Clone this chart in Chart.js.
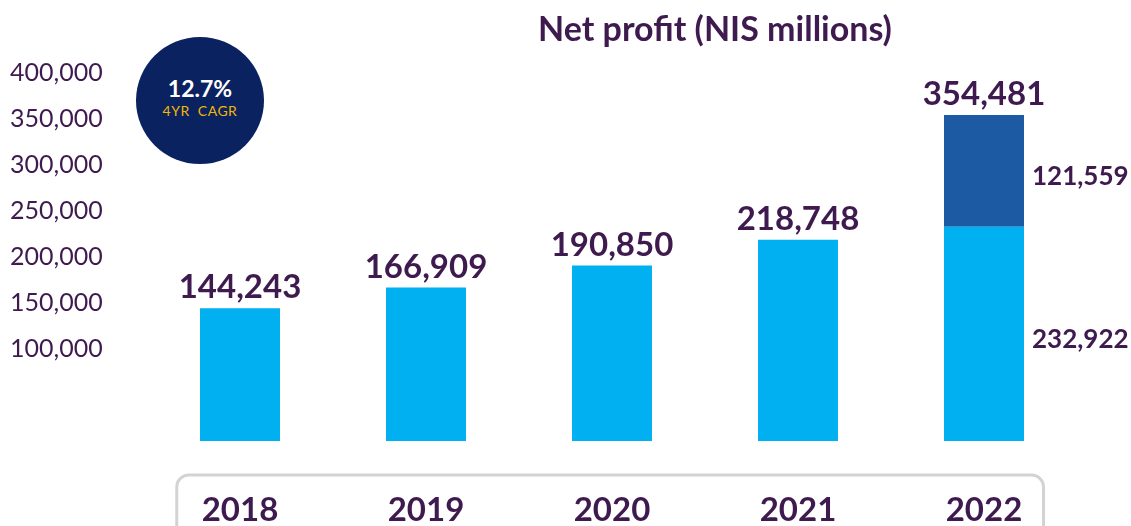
<!DOCTYPE html>
<html>
<head>
<meta charset="utf-8">
<script src="https://cdn.jsdelivr.net/npm/chart.js@4.4.1/dist/chart.umd.min.js"></script>
<style>
  body { margin: 0; background: #fff; }
  #wrap { position: relative; width: 1131px; height: 526px; overflow: hidden; }
  #title {
    position: absolute; left: 513px; top: 7px; width: 404px; text-align: center;
    font: bold 34px Lato, sans-serif; color: #3e1a4f; white-space: nowrap;
  }
  #cagr {
    position: absolute; left: 136px; top: 37px; width: 128px; height: 127px;
    border-radius: 50%; background: #0b2260; text-align: center;
  }
  #cagr .big { margin-top: 37px; font: bold 23px Lato, sans-serif; color: #fff; }
  #cagr .small { margin-top: 0px; font: 14px Lato, sans-serif; color: #f2b705; letter-spacing: 0.5px; word-spacing: 4px; }
</style>
</head>
<body>
<div id="wrap">
  <canvas id="net-profit" width="1131" height="526"></canvas>
  <div id="title">Net profit (NIS millions)</div>
  <div id="cagr"><div class="big">12.7%</div><div class="small">4YR CAGR</div></div>
</div>
<script>
const years = ["2018", "2019", "2020", "2021", "2022"];
const baseProfit = [144243, 166909, 190850, 218748, 232922];
const extraProfit = [null, null, null, null, 121559];
const yTicks = [100000, 150000, 200000, 250000, 300000, 350000, 400000];

const fmt = (v) => v.toLocaleString("en-US");
const textColor = "#3e1a4f";

const barLabels = {
  id: "barLabels",
  afterDatasetsDraw(chart) {
    const ctx = chart.ctx;
    const sets = chart.data.datasets;
    ctx.save();
    ctx.fillStyle = textColor;
    years.forEach((y, i) => {
      let total = 0;
      let topEl = null;
      let parts = [];
      sets.forEach((ds, d) => {
        const v = ds.data[i];
        if (v == null) return;
        total += v;
        const el = chart.getDatasetMeta(d).data[i];
        topEl = el;
        parts.push({ v, el });
      });
      if (!topEl) return;
      ctx.font = "bold 33px Lato";
      ctx.textAlign = "center";
      ctx.textBaseline = "bottom";
      ctx.fillText(fmt(total), topEl.x, topEl.y - 4);
      if (parts.length > 1) {
        ctx.font = "bold 26px Lato";
        ctx.textAlign = "left";
        ctx.textBaseline = "middle";
        parts.forEach((p) => {
          ctx.fillText(fmt(p.v), p.el.x + p.el.width / 2 + 8, (p.el.y + p.el.base) / 2 + 6);
        });
      }
    });
    ctx.restore();
  },
};

// rounded grey frame behind the year labels
const yearFrame = {
  id: "yearFrame",
  beforeDraw(chart) {
    const ctx = chart.ctx;
    const x = chart.scales.x;
    const step = (x.right - x.left) / years.length;
    const left = x.getPixelForValue(0) - step * 0.34;
    const right = x.getPixelForValue(years.length - 1) + step * 0.32;
    ctx.save();
    ctx.strokeStyle = "#d3d3d3";
    ctx.lineWidth = 3;
    ctx.beginPath();
    ctx.roundRect(left, 475, right - left, 80, 12);
    ctx.stroke();
    ctx.restore();
  },
};

new Chart(document.getElementById("net-profit"), {
  type: "bar",
  data: {
    labels: years,
    datasets: [
      {
        data: baseProfit,
        backgroundColor: "#00b0f0",
        barPercentage: 0.43,
        categoryPercentage: 1,
      },
      {
        data: extraProfit,
        backgroundColor: "#1c5aa3",
        barPercentage: 0.43,
        categoryPercentage: 1,
      },
    ],
  },
  options: {
    responsive: false,
    animation: false,
    layout: {
      padding: { top: 73, left: 10, right: 54, bottom: 0 },
    },
    plugins: {
      legend: { display: false },
      tooltip: { enabled: false },
      title: { display: false },
    },
    scales: {
      x: {
        stacked: true,
        grid: { display: false, drawTicks: false },
        border: { display: false },
        ticks: {
          padding: 50,
          color: textColor,
          font: { family: "Lato", size: 33, weight: "bold" },
        },
        afterFit: (scale) => {
          scale.height = 85;
        },
      },
      y: {
        stacked: true,
        min: 0,
        max: 400000,
        grid: { display: false, drawTicks: false },
        border: { display: false },
        afterBuildTicks: (scale) => {
          scale.ticks = [0, 50000].concat(yTicks).map((v) => ({ value: v }));
        },
        ticks: {
          crossAlign: "far",
          color: textColor,
          font: { family: "Lato", size: 25 },
          callback: (v) => (yTicks.includes(v) ? fmt(v) : ""),
        },
        afterFit: (scale) => {
          scale.width = 137;
        },
      },
    },
  },
  plugins: [barLabels, yearFrame],
});
</script>
</body>
</html>
